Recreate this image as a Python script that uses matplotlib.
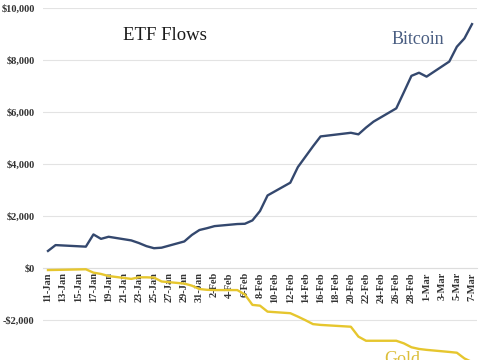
import matplotlib
matplotlib.use("Agg")
import matplotlib.pyplot as plt
import matplotlib.dates as mdates
from matplotlib.ticker import FuncFormatter
import datetime as dt

dates = [
    "2024-01-11", "2024-01-12", "2024-01-16", "2024-01-17", "2024-01-18", "2024-01-19",
    "2024-01-22", "2024-01-23", "2024-01-24", "2024-01-25", "2024-01-26",
    "2024-01-29", "2024-01-30", "2024-01-31", "2024-02-01", "2024-02-02",
    "2024-02-05", "2024-02-06", "2024-02-07", "2024-02-08", "2024-02-09",
    "2024-02-12", "2024-02-13", "2024-02-14", "2024-02-15", "2024-02-16",
    "2024-02-20", "2024-02-21", "2024-02-22", "2024-02-23",
    "2024-02-26", "2024-02-27", "2024-02-28", "2024-02-29", "2024-03-01",
    "2024-03-04", "2024-03-05", "2024-03-06", "2024-03-07",
]
bitcoin = [655, 880, 820, 1290, 1120, 1200, 1060, 960, 840, 760, 780,
           1020, 1270, 1460, 1530, 1610, 1690, 1700, 1830, 2190, 2790,
           3280, 3880, 4280, 4680, 5060, 5200, 5140, 5400, 5630,
           6140, 6760, 7390, 7510, 7360, 7940, 8510, 8830, 9380]
gold = [-80, -75, -50, -180, -230, -310, -420, -360, -360, -370, -520,
        -600, -680, -810, -840, -850, -850, -1020, -1420, -1450, -1680,
        -1740, -1870, -2010, -2160, -2190, -2260, -2640, -2800, -2800,
        -2800, -2900, -3050, -3115, -3150, -3230, -3260, -3480, -3620]
yticks = [-2000, 0, 2000, 4000, 6000, 8000, 10000]

x = [dt.datetime.strptime(d, "%Y-%m-%d") for d in dates]

serif = ["Liberation Serif", "DejaVu Serif"]
plt.rcParams["font.family"] = serif
plt.rcParams["font.weight"] = "bold"

fig = plt.figure(figsize=(4.85, 3.6), dpi=100)
ax = fig.add_axes([43/485, 0, (477-43)/485, 1 - 8/360])

ax.plot(x, bitcoin, color="#34486e", lw=1.7, solid_joinstyle="round", zorder=3)
ax.plot(x, gold, color="#e6c62e", lw=1.7, solid_joinstyle="round", zorder=3)

start = dt.datetime(2024, 1, 11)
end = dt.datetime(2024, 3, 7)
ax.set_xlim(start - dt.timedelta(days=0.66), end + dt.timedelta(days=0.66))
ax.set_ylim(-3540, 10000)

ticks = [start + dt.timedelta(days=2*i) for i in range(29)]
ax.set_xticks(ticks)
ax.xaxis.set_major_formatter(mdates.DateFormatter("%-d-%b"))

ax.set_yticks(yticks)
def fmt(v, pos):
    v = int(round(v))
    return ("-$" if v < 0 else "$") + f"{abs(v):,}"
ax.yaxis.set_major_formatter(FuncFormatter(fmt))

ax.tick_params(axis="both", length=0, labelsize=7.5, labelcolor="#333333")
ax.tick_params(axis="y", pad=6)
ax.tick_params(axis="x", pad=3, labelrotation=90)
ax.grid(axis="y", color="#e3e3e3", lw=0.8)
ax.set_axisbelow(True)
for s in ["top", "right", "left"]:
    ax.spines[s].set_visible(False)
ax.spines["bottom"].set_position(("data", 0))
ax.spines["bottom"].set_color("#dddddd")
ax.spines["bottom"].set_linewidth(0.8)

fig.text(165/485, 1 - 36/360, "ETF Flows", fontsize=13.5, fontweight="normal",
         color="#1a1a1a", ha="center", va="center")
fig.text(418/485, 1 - 39/360, "Bitcoin", fontsize=13, fontweight="normal",
         color="#4a5e82", ha="center", va="center")
fig.text(402/485, 1 - 360/360, "Gold", fontsize=13, fontweight="normal",
         color="#dcbf3a", ha="center", va="center")

fig.savefig("out.png", dpi=100)
